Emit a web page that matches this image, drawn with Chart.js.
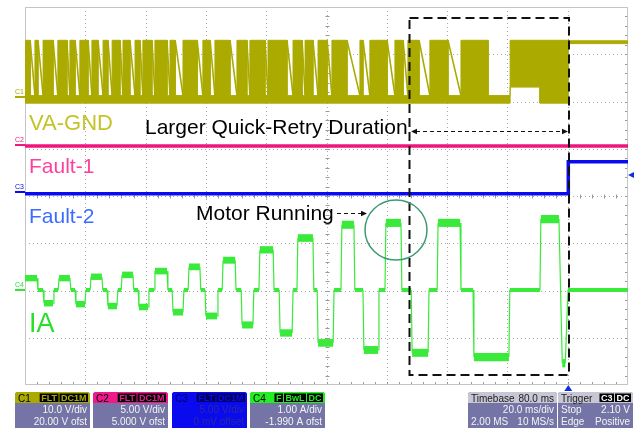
<!DOCTYPE html>
<html>
<head>
<meta charset="utf-8">
<script src="https://cdn.jsdelivr.net/npm/chart.js@4.4.0/dist/chart.umd.min.js"></script>
<style>
  body { margin: 0; background: #fff; }
  #wrap { position: relative; width: 634px; height: 428px; }
</style>
</head>
<body>
<div id="wrap"><canvas id="scope" width="634" height="428"></canvas></div>
<script>
// time in ms from the left edge of the screen (20 ms/div, 10 div)
const timeSpan = [0, 200];
const triggerTime = 180.2;

// C1 VA-GND (V): filled PWM band, notches where the phase floats (thin falling ramp inside)
const vaHigh = 12.0, vaLow = -1.3, vaFloor = 0.3, vaAfter = 11.9;
const vaNotchStart = [1.7, 4.3, 9.3, 13.9, 16.6, 20.9, 24.2, 27.5, 31.5, 34.8, 38.1, 42.1, 47.1, 49.8, 57.1, 61.4, 68.0, 73.6, 79.6, 86.9, 91.9, 95.5, 100.2, 106.8, 112.1, 120.1, 125.4, 130.7, 140.3];
const vaNotchEnd   = [3.3, 6.0, 10.9, 14.9, 18.2, 22.2, 25.9, 28.9, 32.5, 36.5, 39.1, 43.1, 48.1, 52.4, 59.0, 63.0, 70.3, 74.6, 80.6, 88.9, 92.9, 97.2, 101.8, 111.1, 114.4, 122.7, 127.0, 134.3, 144.6];
// phase held low (only the thin bottom line left)
const vaLowStart = [153.6];
const vaLowEnd   = [160.9];
// lower edge of the band
const vaBotT = [0, 160.9, 160.9, 170.8, 170.8, 180.2, 180.2, 200];
const vaBotV = [vaLow, vaLow, 2.1, 2.1, vaLow, vaLow, 11.3, 11.3];

// C2 Fault-1 (V) and C3 Fault-2 (V)
const fault1T = [0, 200];
const fault1V = [-0.1, -0.1];
const fault2T = [0, 180.2, 180.2, 200];
const fault2V = [-0.2, -0.2, 3.2, 3.2];

// C4 IA (A): current plateaus, zero between them
const iaStart = [0, 6.3, 11.3, 16.9, 21.9, 27.5, 32.2, 37.8, 43.1, 49.1, 54.4, 60.0, 65.7, 72.0, 77.9, 84.6, 90.5, 97.2, 105.1, 112.4, 119.7, 128.4, 137.0, 148.9, 171.1, 178.2];
const iaEnd   = [4.0, 9.3, 14.9, 19.9, 25.5, 30.5, 35.8, 40.8, 47.1, 52.4, 58.0, 63.7, 69.7, 75.6, 82.3, 88.6, 95.5, 102.2, 109.1, 117.1, 124.7, 133.7, 144.3, 160.5, 177.1, 179.2];
const iaLevel = [0.25, -0.28, 0.25, -0.30, 0.28, -0.34, 0.32, -0.36, 0.40, -0.47, 0.49, -0.55, 0.63, -0.74, 0.85, -0.91, 1.10, -1.12, 1.38, -1.27, 1.42, -1.33, 1.42, -1.42, 1.50, -1.55];

// screen position of each channel ground (div from bottom) and units per div
const offC1 = 6.095, offC2 = 5.079, offC3 = 4.085, offC4 = 2.011;
const perDivC1 = 10, perDivC2 = 5, perDivC3 = 5, perDivC4 = 1;

function toPoints(ts, vs, off, perDiv) {
  return ts.map((t, i) => ({ x: t, y: vs[i] === null ? null : off + vs[i] / perDiv }));
}

// upper edge of the C1 band, plus the floating ramps drawn as thin lines
const vaTopT = [0], vaTopV = [vaHigh];
const rampT = [], rampV = [];
const vaCuts = vaNotchStart.map((a, i) => [a, vaNotchEnd[i], true])
  .concat(vaLowStart.map((a, i) => [a, vaLowEnd[i], false]))
  .sort((p, q) => p[0] - q[0]);
vaCuts.forEach(([a, b, ramp]) => {
  vaTopT.push(a, a, b, b);
  vaTopV.push(vaHigh, vaFloor, vaFloor, vaHigh);
  if (ramp) {
    rampT.push(a, b, b);
    rampV.push(vaHigh, vaFloor, null);
  }
});
vaTopT.push(triggerTime, triggerTime, 200);
vaTopV.push(vaHigh, vaAfter, vaAfter);

// IA trace
const iaT = [], iaV = [];
iaStart.forEach((s, i) => {
  if (i > 0 && s - iaEnd[i - 1] > 1.2) {
    iaT.push(iaEnd[i - 1] + 0.3, s - 0.3);
    iaV.push(0, 0);
  }
  iaT.push(s, iaEnd[i]);
  iaV.push(iaLevel[i], iaLevel[i]);
});
iaT.push(iaEnd[iaEnd.length - 1] + 0.9, 200);
iaV.push(0, 0);

// grid, frame, small ticks on the centre axes
const gridPlugin = {
  id: 'scopeGrid',
  beforeDatasetsDraw(chart) {
    const { ctx, chartArea: a, scales: { x, y } } = chart;
    ctx.save();
    ctx.strokeStyle = '#a8a8a8';
    ctx.lineWidth = 1;
    ctx.setLineDash([1, 3]);
    for (let i = 1; i < 10; i++) {
      const px = Math.round(x.getPixelForValue(i * 20)) + 0.5;
      ctx.beginPath(); ctx.moveTo(px, a.top); ctx.lineTo(px, a.bottom); ctx.stroke();
    }
    for (let j = 1; j < 8; j++) {
      const py = Math.round(y.getPixelForValue(j)) + 0.5;
      ctx.beginPath(); ctx.moveTo(a.left, py); ctx.lineTo(a.right, py); ctx.stroke();
    }
    ctx.setLineDash([]);
    ctx.strokeStyle = '#9a9a9a';
    const cx = Math.round(x.getPixelForValue(100)) + 0.5;
    const cy = Math.round(y.getPixelForValue(4)) + 0.5;
    ctx.beginPath();
    for (let k = 1; k < 50; k++) {
      const px = Math.round(x.getPixelForValue(k * 4)) + 0.5;
      ctx.moveTo(px, cy - 2); ctx.lineTo(px, cy + 2);
      ctx.moveTo(px, a.bottom - 3); ctx.lineTo(px, a.bottom);
    }
    for (let k = 1; k < 40; k++) {
      const py = Math.round(y.getPixelForValue(k * 0.2)) + 0.5;
      ctx.moveTo(cx - 2, py); ctx.lineTo(cx + 2, py);
      ctx.moveTo(a.right - 3, py); ctx.lineTo(a.right, py);
    }
    ctx.stroke();
    ctx.strokeStyle = '#c4c4c4';
    ctx.strokeRect(a.left + 0.5, a.top + 0.5, a.right - a.left - 1, a.bottom - a.top - 1);
    ctx.restore();
  }
};

function arrowHead(ctx, x, y, dir, size) {
  ctx.beginPath();
  ctx.moveTo(x, y);
  ctx.lineTo(x - dir * size, y - size * 0.45);
  ctx.lineTo(x - dir * size, y + size * 0.45);
  ctx.closePath();
  ctx.fill();
}

function panel(ctx, x, w, head, body) {
  const y = 392, h = 40;
  ctx.save();
  ctx.fillStyle = body.bg;
  ctx.beginPath(); ctx.roundRect(x, y, w, h, 3); ctx.fill();
  ctx.fillStyle = head.bg;
  ctx.beginPath(); ctx.roundRect(x, y, w, 11, [3, 3, 0, 0]); ctx.fill();
  ctx.font = '10px "Liberation Sans", Arial, sans-serif';
  ctx.textBaseline = 'alphabetic';
  ctx.fillStyle = head.fg;
  ctx.textAlign = 'left';
  ctx.fillText(head.left, x + 3, y + 9.5);
  if (head.right) {
    ctx.textAlign = 'right';
    ctx.fillText(head.right, x + w - 3, y + 9.5);
  }
  // badges on the right of the header
  let bx = x + w - 2;
  (head.badges || []).slice().reverse().forEach(b => {
    ctx.font = 'bold 9px "Liberation Sans", Arial, sans-serif';
    const bw = ctx.measureText(b).width + 3;
    bx -= bw;
    ctx.fillStyle = head.badgeBg || '#000';
    ctx.fillRect(bx, y + 1.5, bw, 8.5);
    ctx.fillStyle = head.badgeFg;
    ctx.textAlign = 'left';
    ctx.fillText(b, bx + 1.5, y + 9);
    bx -= 1;
  });
  ctx.font = '10px "Liberation Sans", Arial, sans-serif';
  ctx.fillStyle = body.fg;
  body.rows.forEach((r, i) => {
    const by = y + 21 + i * 12;
    if (r[0]) { ctx.textAlign = 'left'; ctx.fillText(r[0], x + 3, by); }
    if (r[1]) { ctx.textAlign = 'right'; ctx.fillText(r[1], x + w - 3, by); }
  });
  ctx.restore();
}

const notesPlugin = {
  id: 'scopeNotes',
  afterDraw(chart) {
    const { ctx, scales: { x, y } } = chart;
    ctx.save();
    // channel ground markers
    const marks = [['C1', offC1, '#aaaa00'], ['C2', offC2, '#f0157d'], ['C3', offC3, '#0a0af0'], ['C4', offC4, '#2ee62e']];
    ctx.font = '7px "Liberation Sans", Arial, sans-serif';
    ctx.textAlign = 'left';
    marks.forEach(m => {
      const py = y.getPixelForValue(m[1]);
      ctx.fillStyle = m[2];
      ctx.fillText(m[0], 15, py - 3);
      ctx.fillRect(15, py - 1, 10, 2);
    });

    // trace names
    ctx.font = '22px "Liberation Sans", Arial, sans-serif';
    ctx.fillStyle = '#c4c42a'; ctx.fillText('VA-GND', 29, 130);
    ctx.font = '21px "Liberation Sans", Arial, sans-serif';
    ctx.fillStyle = '#ff3fa0'; ctx.fillText('Fault-1', 29, 173);
    ctx.fillStyle = '#3b6cff'; ctx.fillText('Fault-2', 29, 223);
    ctx.font = '27px "Liberation Sans", Arial, sans-serif';
    ctx.fillStyle = '#27e027'; ctx.fillText('IA', 29, 332);

    // annotations
    ctx.fillStyle = '#000';
    ctx.font = '21px "Liberation Sans", Arial, sans-serif';
    ctx.fillText('Larger Quick-Retry Duration', 145, 134);
    ctx.fillText('Motor Running', 196, 220);

    ctx.strokeStyle = '#111';
    ctx.lineWidth = 1;
    ctx.setLineDash([4, 3]);
    ctx.beginPath(); ctx.moveTo(337, 213.5); ctx.lineTo(362, 213.5); ctx.stroke();
    ctx.beginPath(); ctx.moveTo(416, 131.5); ctx.lineTo(563, 131.5); ctx.stroke();
    ctx.setLineDash([]);
    ctx.fillStyle = '#111';
    arrowHead(ctx, 367, 213.5, 1, 6);
    arrowHead(ctx, 411, 131.5, -1, 6);
    arrowHead(ctx, 568, 131.5, 1, 6);

    // dashed box around the quick-retry region
    ctx.lineWidth = 2;
    ctx.setLineDash([9, 5]);
    ctx.strokeRect(409.5, 18, 159.5, 357);
    ctx.setLineDash([]);

    // circle around the motor current
    ctx.strokeStyle = '#3a9a70';
    ctx.lineWidth = 1.5;
    ctx.beginPath(); ctx.ellipse(396, 230, 31, 30, 0, 0, Math.PI * 2); ctx.stroke();

    // trigger markers
    ctx.fillStyle = '#1030e0';
    const tx = x.getPixelForValue(triggerTime);
    ctx.beginPath(); ctx.moveTo(tx, 385); ctx.lineTo(tx - 4, 391); ctx.lineTo(tx + 4, 391); ctx.closePath(); ctx.fill();
    ctx.beginPath(); ctx.moveTo(628, 175); ctx.lineTo(634, 172); ctx.lineTo(634, 178); ctx.closePath(); ctx.fill();
    ctx.restore();

    // bottom readouts
    const body = { bg: '#7474a6', fg: '#f4f4f4' };
    panel(ctx, 15, 75, { bg: '#aaaa00', fg: '#000', left: 'C1', badges: ['FLT', 'DC1M'], badgeFg: '#aaaa00' },
      { ...body, rows: [[null, '10.0 V/div'], [null, '20.00 V ofst']] });
    panel(ctx, 93, 75, { bg: '#ee1a8c', fg: '#000', left: 'C2', badges: ['FLT', 'DC1M'], badgeFg: '#ee1a8c' },
      { ...body, rows: [[null, '5.00 V/div'], [null, '5.000 V ofst']] });
    panel(ctx, 172, 75, { bg: '#0a0aee', fg: '#000060', left: 'C3', badges: ['FLT', 'DC1M'], badgeBg: '#000060', badgeFg: '#0a0aee' },
      { bg: '#0a0aee', fg: '#2a2aa0', rows: [[null, '5.00 V/div'], [null, '0 mV offset']] });
    panel(ctx, 250, 75, { bg: '#22ee22', fg: '#000', left: 'C4', badges: ['F', 'BwL', 'DC'], badgeFg: '#22ee22' },
      { ...body, rows: [[null, '1.00 A/div'], [null, '-1.990 A ofst']] });
    panel(ctx, 468, 89, { bg: '#c6c6d4', fg: '#202020', left: 'Timebase', right: '80.0 ms' },
      { ...body, rows: [[null, '20.0 ms/div'], ['2.00 MS', '10 MS/s']] });
    panel(ctx, 558, 75, { bg: '#c6c6d4', fg: '#202020', left: 'Trigger', badges: ['C3', 'DC'], badgeFg: '#fff' },
      { ...body, rows: [['Stop', '2.10 V'], ['Edge', 'Positive']] });
  }
};

const ctx = document.getElementById('scope').getContext('2d');
new Chart(ctx, {
  type: 'line',
  data: {
    datasets: [
      {
        label: 'VA-GND top',
        data: toPoints(vaTopT, vaTopV, offC1, perDivC1),
        borderColor: '#aaaa00',
        backgroundColor: '#aaaa00',
        borderWidth: 1,
        fill: '+1'
      },
      {
        label: 'VA-GND bottom',
        data: toPoints(vaBotT, vaBotV, offC1, perDivC1),
        borderColor: '#aaaa00',
        borderWidth: 1,
        fill: false
      },
      {
        label: 'VA-GND ramps',
        data: toPoints(rampT, rampV, offC1, perDivC1),
        borderColor: '#aaaa00',
        borderWidth: 1.6,
        spanGaps: false,
        fill: false
      },
      {
        label: 'Fault-1',
        data: toPoints(fault1T, fault1V, offC2, perDivC2),
        borderColor: '#f0157d',
        borderWidth: 3.5,
        fill: false
      },
      {
        label: 'Fault-2',
        data: toPoints(fault2T, fault2V, offC3, perDivC3),
        borderColor: '#0a0af0',
        borderWidth: 3.5,
        fill: false
      },
      {
        label: 'IA',
        data: toPoints(iaT, iaV, offC4, perDivC4),
        borderColor: '#3aea3a',
        borderWidth: 1.2,
        fill: false,
        segment: {
          // noisy plateaus look thick, the edges are thin
          borderWidth: c => c.p0.parsed.y === c.p1.parsed.y
            ? (Math.abs(c.p0.parsed.y - offC4) < 0.01 ? 4 : 6 + Math.abs(c.p0.parsed.y - offC4) * 1.5)
            : 1.2
        }
      }
    ]
  },
  options: {
    responsive: false,
    animation: false,
    parsing: true,
    layout: { padding: { left: 25, top: 7, right: 6, bottom: 43 } },
    elements: { point: { radius: 0 }, line: { tension: 0 } },
    plugins: { legend: { display: false }, tooltip: { enabled: false } },
    scales: {
      x: {
        type: 'linear', min: timeSpan[0], max: timeSpan[1],
        ticks: { display: false }, grid: { display: false, drawTicks: false }, border: { display: false }
      },
      y: {
        type: 'linear', min: 0, max: 8,
        ticks: { display: false }, grid: { display: false, drawTicks: false }, border: { display: false }
      }
    }
  },
  plugins: [gridPlugin, notesPlugin]
});
</script>
</body>
</html>
